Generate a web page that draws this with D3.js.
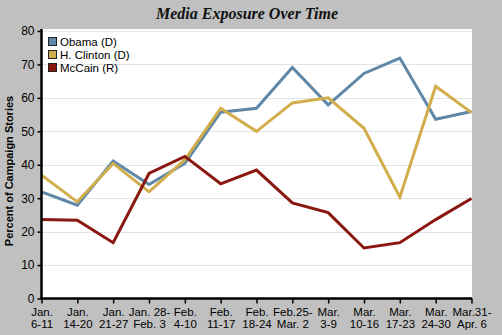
<!DOCTYPE html>
<html><head><meta charset="utf-8">
<script src="https://cdn.jsdelivr.net/npm/d3@7"></script>
<style>
html,body{margin:0;padding:0;background:#c0c0c0;}
svg{display:block;}
</style></head>
<body>
<script>
const categories = [
  ["Jan.","6-11"],["Jan.","14-20"],["Jan.","21-27"],["Jan. 28-","Feb. 3"],["Feb.","4-10"],
  ["Feb.","11-17"],["Feb.","18-24"],["Feb.25-","Mar. 2"],["Mar.","3-9"],["Mar.","10-16"],
  ["Mar.","17-23"],["Mar.","24-30"],["Mar.31-","Apr. 6"]
];
const obama   = [31.9, 27.9, 41.1, 34.1, 40.4, 55.7, 56.9, 69.1, 57.9, 67.3, 71.9, 53.6, 55.9];
const clinton = [36.9, 28.9, 40.4, 31.9, 41.5, 56.9, 50.0, 58.5, 60.0, 50.9, 30.3, 63.5, 55.6];
const mccain  = [23.6, 23.4, 16.7, 37.4, 42.5, 34.3, 38.4, 28.6, 25.7, 15.1, 16.7, 23.6, 29.9];
const seriesNames = ["Obama (D)", "H. Clinton (D)", "McCain (R)"];
const seriesColors = ["#5f88a8", "#d2ad4b", "#8a1810"];
const yTicks = [0,10,20,30,40,50,60,70,80];
const title = "Media Exposure Over Time";
const yLabel = "Percent of Campaign Stories";

const W = 502, H = 335;
const mLeft = 41.5, mRight = 471.5, mTop = 31, mBottom = 298.5;
const svg = d3.select("body").append("svg").attr("width", W).attr("height", H);
svg.append("rect").attr("width", W).attr("height", H).attr("fill", "#c0c0c0");

const x = d3.scalePoint().domain(d3.range(categories.length)).range([mLeft, mRight]);
const y = d3.scaleLinear().domain([0, 80]).range([mBottom, mTop]);

// plot background
svg.append("rect").attr("x", mLeft).attr("y", 29).attr("width", 472 - mLeft).attr("height", mBottom - 29).attr("fill", "#fff");

// gridlines
svg.append("g").selectAll("line").data(yTicks.filter(d => d > 0)).join("line")
  .attr("x1", mLeft).attr("x2", 472).attr("y1", d => Math.round(y(d)) + 0.5).attr("y2", d => Math.round(y(d)) + 0.5)
  .attr("stroke", "#e4e4e4").attr("stroke-width", 1);

// series
const data = [obama, clinton, mccain];
const line = d3.line().x((d, i) => x(i)).y(d => y(d));
svg.append("g").selectAll("path").data(data).join("path")
  .attr("d", line).attr("fill", "none")
  .attr("stroke", (d, i) => seriesColors[i]).attr("stroke-width", 3)
  .attr("stroke-linejoin", "miter");

// y axis
const yAxis = d3.axisLeft(y).tickValues(yTicks).tickSize(4).tickPadding(3);
const gy = svg.append("g").attr("transform", `translate(${mLeft},0)`).call(yAxis);
gy.select(".domain").attr("stroke", "#000").attr("stroke-width", 2.5).attr("d", `M0,${mTop - 2}V${mBottom}`);
gy.selectAll(".tick line").attr("stroke", "#000").attr("stroke-width", 1.5);
gy.selectAll(".tick text").attr("font-family", "Liberation Sans, Arial, sans-serif").attr("font-size", 12).attr("fill", "#000");

// x axis
const xAxis = d3.axisBottom(x).tickSize(5).tickFormat("");
const gx = svg.append("g").attr("transform", `translate(0,${mBottom})`).call(xAxis);
gx.select(".domain").attr("stroke", "#000").attr("stroke-width", 2.5).attr("d", `M${mLeft - 1},0H472`);
gx.selectAll(".tick line").attr("stroke", "#000").attr("stroke-width", 1.5);
gx.selectAll(".tick").each(function(d) {
  const t = d3.select(this).append("text").attr("fill", "#000")
    .attr("font-family", "Liberation Sans, Arial, sans-serif").attr("font-size", 11.5)
    .attr("text-anchor", "middle");
  t.append("tspan").attr("x", 0).attr("y", 17.5).text(categories[d][0]);
  t.append("tspan").attr("x", 0).attr("y", 29.5).text(categories[d][1]);
});

// title
svg.append("text").attr("x", 247).attr("y", 19).attr("text-anchor", "middle")
  .attr("font-family", "Liberation Serif, Times New Roman, serif").attr("font-weight", "bold")
  .attr("font-style", "italic").attr("font-size", 16).attr("fill", "#111").text(title);

// y label
svg.append("text").attr("transform", "translate(13,171) rotate(-90)").attr("text-anchor", "middle")
  .attr("font-family", "Liberation Sans, Arial, sans-serif").attr("font-weight", "bold")
  .attr("font-size", 11).attr("fill", "#000").text(yLabel);

// legend
const lg = svg.append("g").selectAll("g").data(seriesNames).join("g")
  .attr("transform", (d, i) => `translate(48,${37 + i * 13})`);
lg.append("rect").attr("x", 0.5).attr("y", 0.5).attr("width", 8).attr("height", 8)
  .attr("fill", (d, i) => seriesColors[i]).attr("stroke", "#222").attr("stroke-width", 1);
lg.append("text").attr("x", 12).attr("y", 8.5).attr("font-family", "Liberation Sans, Arial, sans-serif")
  .attr("font-size", 11.5).attr("fill", "#000").text(d => d);
</script>
</body></html>
